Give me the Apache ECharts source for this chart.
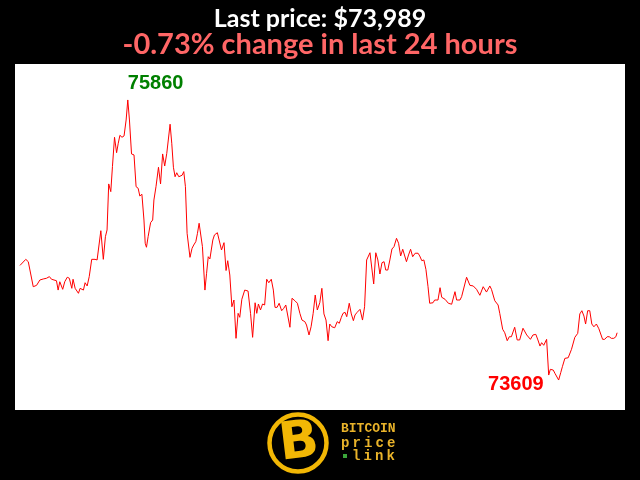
<!DOCTYPE html>
<html>
<head>
<meta charset="utf-8">
<script src="https://cdn.jsdelivr.net/npm/echarts@6/dist/echarts.min.js"></script>
<style>html,body{margin:0;padding:0;background:#000;}#c{width:640px;height:480px;}</style>
</head>
<body>
<div id="c"></div>
<script>
// minutes elapsed since the start of the 24-hour window
var minutes = [0,4,14,20,24,32,40,44,48,52,56,60,64,71,76,80,88,92,96,103,108,114,119,125,128,133,137,141,145,149,153,157,162,167,173,177,181,186,195,201,206,210,214,219,223,228,233,237,241,246,251,256,260,264,269,275,280,285,289,294,299,302,305,309,315,320,323,328,334,339,344,349,354,362,366,370,374,378,383,387,391,395,399,403,410,415,419,424,428,432,436,440,446,450,454,458,465,469,476,480,486,492,497,501,506,511,516,521,526,530,535,542,550,556,561,567,571,575,580,585,590,595,600,606,611,615,620,625,631,636,641,651,656,663,669,675,680,687,691,697,702,707,712,717,723,728,733,738,743,747,752,759,765,770,775,779,784,788,794,799,804,808,813,820,826,831,836,844,849,853,858,863,868,873,878,882,887,892,897,902,908,913,918,923,927,932,937,942,947,953,960,964,969,974,979,984,988,996,1000,1008,1013,1017,1025,1033,1041,1045,1049,1053,1061,1065,1077,1085,1093,1101,1109,1117,1125,1133,1137,1145,1153,1157,1164,1169,1175,1180,1185,1193,1199,1205,1213,1222,1225,1231,1237,1244,1249,1254,1258,1263,1270,1275,1279,1286,1290,1294,1299,1304,1308,1314,1322,1330,1338,1345,1350,1355,1360,1364,1369,1374,1379,1384,1390,1396,1400,1405,1410,1416,1421,1426,1432,1437,1440];
// BTC price in USD
var prices = [74530,74525,74579,74560,74552,74359,74370,74373,74413,74405,74421,74413,74427,74440,74419,74413,74407,74332,74399,74338,74399,74435,74427,74346,74419,74346,74332,74306,74346,74359,74332,74391,74365,74440,74579,74587,74579,74574,74809,74579,74761,74815,75185,75123,75324,75560,75436,75512,75576,75560,75571,75699,75860,75699,75426,75418,75163,75150,75088,75102,74895,74708,74676,74761,74874,74895,75056,75163,75319,75185,75426,75329,75431,75665,75512,75319,75243,75275,75243,75243,75255,75284,75163,74788,74595,74668,74694,74721,74788,74869,74863,74681,74332,74467,74600,74582,74734,74775,74793,74783,74654,74713,74489,74568,74453,74198,74252,73944,74145,74113,74258,74332,74324,74145,73952,74230,74145,74220,74172,74220,74212,74419,74391,74419,74332,74193,74193,74226,74166,74185,74212,74033,74266,74246,74226,74145,74091,74078,74051,73971,74037,74145,74292,74172,74230,74346,74140,74091,73925,74059,74037,74029,74078,74065,74113,74145,74153,74118,74226,74140,74086,74132,74153,74177,74091,74198,74574,74632,74493,74381,74632,74574,74461,74552,74560,74493,74493,74574,74662,74681,74748,74708,74606,74660,74654,74560,74614,74660,74600,74628,74628,74606,74568,74574,74497,74359,74226,74230,74252,74252,74351,74274,74258,74226,74218,74220,74319,74252,74252,74279,74435,74370,74365,74338,74290,74359,74316,74365,74338,74246,74212,74145,74017,73989,73925,73957,73957,74033,73931,73931,74025,73971,73979,73936,73971,73976,73931,73882,73909,73888,73936,73649,73695,73689,73663,73657,73609,73668,73716,73783,73788,73856,73952,73984,74140,74166,74123,74059,74166,74166,74059,74037,74059,74021,74017,73936,73936,73957,73957,73944,73944,73957,73989];
var titleText = 'Last price: $73,989';
var changeText = '-0.73% change in last 24 hours';
var logoWords = ['BITCOIN', 'price', 'link'];

var chart = echarts.init(document.getElementById('c'), null, {renderer: 'canvas'});
var data = minutes.map(function (m, i) { return [m, prices[i]]; });

var logo = [
  {type: 'circle', shape: {cx: 298, cy: 443, r: 28.5}, style: {fill: '#000', stroke: '#f2b705', lineWidth: 4.5}},
  {type: 'text', x: 299, y: 444, rotation: 0.12, style: {text: 'B', fill: '#f2b705', font: 'bold 52px "DejaVu Sans"', align: 'center', verticalAlign: 'middle'}},
  {type: 'text', x: 341, y: 429, style: {text: logoWords[0], fill: '#e9b32a', font: 'bold 13px "Liberation Mono"', verticalAlign: 'middle'}}
];
var w1 = logoWords[1];
for (var i = 0; i < w1.length; i++) {
  logo.push({type: 'text', x: 341 + i * 11.5, y: 443, style: {text: w1[i], fill: '#e9b32a', font: 'bold 14px "Liberation Mono"', verticalAlign: 'middle'}});
}
var w2 = logoWords[2];
logo.push({type: 'rect', shape: {x: 343, y: 454, width: 4, height: 4}, style: {fill: '#3aa53a'}});
for (var j = 0; j < w2.length; j++) {
  logo.push({type: 'text', x: 352 + j * 11.5, y: 456, style: {text: w2[j], fill: '#e9b32a', font: 'bold 14px "Liberation Mono"', verticalAlign: 'middle'}});
}

chart.setOption({
  backgroundColor: '#000',
  animation: false,
  title: [
    {text: titleText, left: 'center', top: 1, textStyle: {color: '#fff', fontSize: 25, fontWeight: 'bold', fontFamily: 'Lato'}},
    {text: changeText, left: 'center', top: 25, textStyle: {color: '#ff6666', fontSize: 29, fontWeight: 'bold', fontFamily: 'Lato'}}
  ],
  grid: {left: 15, right: 15, top: 64, bottom: 70, show: true, backgroundColor: '#fff', borderWidth: 0},
  xAxis: {type: 'value', min: -12, max: 1459, show: false},
  yAxis: {type: 'value', min: 73368, max: 76149, show: false},
  series: [{
    type: 'line',
    data: data,
    showSymbol: false,
    lineStyle: {color: '#ff0000', width: 1},
    markPoint: {
      symbol: 'circle',
      symbolSize: 0,
      data: [
        {type: 'max', name: 'max', label: {show: true, formatter: '{c}', color: '#008000', fontSize: 20, fontWeight: 'bold', fontFamily: 'Liberation Sans', position: 'inside', align: 'left', verticalAlign: 'middle', offset: [0, -16]}},
        {type: 'min', name: 'min', label: {show: true, formatter: '{c}', color: '#ff0000', fontSize: 20, fontWeight: 'bold', fontFamily: 'Liberation Sans', position: 'inside', align: 'right', verticalAlign: 'middle', offset: [-15, 4]}}
      ]
    }
  }],
  graphic: logo
});
</script>
</body>
</html>
